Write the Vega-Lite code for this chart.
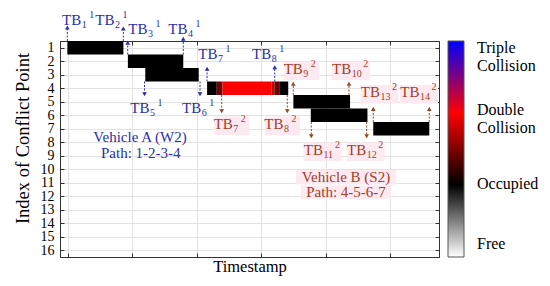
{
  "$schema": "https://vega.github.io/schema/vega-lite/v6.json",
  "autosize": "none",
  "width": 379,
  "height": 216,
  "padding": {"left": 60, "top": 41, "right": 111, "bottom": 29},
  "background": "white",
  "config": {
    "font": "Liberation Serif",
    "view": {"stroke": "#444", "strokeWidth": 1},
    "axis": {"domainColor": "#333", "tickColor": "#333", "gridColor": "#e2e2e2", "labelFont": "Liberation Serif", "titleFont": "Liberation Serif", "labelColor": "#000", "titleColor": "#000", "titleFontWeight": "normal"}
  },
  "datasets": {
    "heat": [
      {"x0": -0.1, "x1": 8.6, "row": 1, "v": 1},
      {"x0": 9.3, "x1": 17.9, "row": 2, "v": 1},
      {"x0": 12.0, "x1": 20.3, "row": 3, "v": 1},
      {"x0": 21.6, "x1": 23.1, "row": 4, "v": 1},
      {"x0": 23.1, "x1": 24.0, "row": 4, "v": 1.45},
      {"x0": 24.0, "x1": 31.6, "row": 4, "v": 2},
      {"x0": 31.6, "x1": 32.1, "row": 4, "v": 1.7},
      {"x0": 32.1, "x1": 32.9, "row": 4, "v": 1.4},
      {"x0": 32.9, "x1": 34.2, "row": 4, "v": 1},
      {"x0": 35.0, "x1": 43.8, "row": 5, "v": 1},
      {"x0": 37.7, "x1": 46.5, "row": 6, "v": 1},
      {"x0": 47.4, "x1": 56.1, "row": 7, "v": 1}
    ],
    "arrows": [
      {"veh": "A", "t": -0.11, "r0": 0.5, "r1": -0.5, "dir": "up"},
      {"veh": "A", "t": 8.59, "r0": 0.5, "r1": -0.42, "dir": "up"},
      {"veh": "A", "t": 9.27, "r0": 1.5, "r1": 0.62, "dir": "up"},
      {"veh": "A", "t": 17.9, "r0": 1.5, "r1": 0.34, "dir": "up"},
      {"veh": "A", "t": 11.88, "r0": 3.5, "r1": 4.45, "dir": "down"},
      {"veh": "A", "t": 20.5, "r0": 3.5, "r1": 4.45, "dir": "down"},
      {"veh": "A", "t": 21.6, "r0": 3.5, "r1": 2.56, "dir": "up"},
      {"veh": "A", "t": 32.1, "r0": 3.5, "r1": 2.44, "dir": "up"},
      {"veh": "B", "t": 23.87, "r0": 4.5, "r1": 5.7, "dir": "down"},
      {"veh": "B", "t": 34.05, "r0": 4.5, "r1": 5.7, "dir": "down"},
      {"veh": "B", "t": 34.98, "r0": 4.5, "r1": 3.67, "dir": "up"},
      {"veh": "B", "t": 43.63, "r0": 4.5, "r1": 3.67, "dir": "up"},
      {"veh": "B", "t": 37.78, "r0": 6.5, "r1": 7.55, "dir": "down"},
      {"veh": "B", "t": 46.38, "r0": 6.5, "r1": 7.55, "dir": "down"},
      {"veh": "B", "t": 47.41, "r0": 6.5, "r1": 5.53, "dir": "up"},
      {"veh": "B", "t": 56.1, "r0": 6.5, "r1": 5.53, "dir": "up"}
    ],
    "tb": [
      {"veh": "A", "n": "1", "s": "1", "t": 2.13, "r": -1.06},
      {"veh": "A", "n": "2", "s": "1", "t": 7.3, "r": -1.06},
      {"veh": "A", "n": "3", "s": "1", "t": 12.42, "r": -0.39},
      {"veh": "A", "n": "4", "s": "1", "t": 18.63, "r": -0.39},
      {"veh": "A", "n": "5", "s": "1", "t": 12.73, "r": 5.46},
      {"veh": "A", "n": "6", "s": "1", "t": 20.76, "r": 5.46},
      {"veh": "A", "n": "7", "s": "1", "t": 23.29, "r": 1.46},
      {"veh": "A", "n": "8", "s": "1", "t": 31.63, "r": 1.46},
      {"veh": "B", "n": "7", "s": "2", "t": 25.67, "r": 6.65},
      {"veh": "B", "n": "8", "s": "2", "t": 33.54, "r": 6.65},
      {"veh": "B", "n": "9", "s": "2", "t": 36.54, "r": 2.57},
      {"veh": "B", "n": "10", "s": "2", "t": 44.05, "r": 2.57},
      {"veh": "B", "n": "11", "s": "2", "t": 39.67, "r": 8.57},
      {"veh": "B", "n": "12", "s": "2", "t": 46.38, "r": 8.57},
      {"veh": "B", "n": "13", "s": "2", "t": 48.52, "r": 4.31},
      {"veh": "B", "n": "14", "s": "2", "t": 54.66, "r": 4.31}
    ],
    "veh": [
      {"veh": "A", "t": 11.18, "r": 7.61, "label": "Vehicle A (W2)"},
      {"veh": "A", "t": 11.3, "r": 8.8, "label": "Path: 1-2-3-4"},
      {"veh": "B", "t": 43.17, "r": 10.61, "label": "Vehicle B (S2)"},
      {"veh": "B", "t": 43.17, "r": 11.72, "label": "Path: 4-5-6-7"}
    ]
  },
  "layer": [
    {
      "data": {"name": "heat"},
      "mark": {"type": "rect", "height": 13.5, "opacity": 1},
      "encoding": {
        "x": {"field": "x0", "type": "quantitative",
              "scale": {"domain": [-1.242, 57.61], "nice": false, "zero": false},
              "axis": {"orient": "bottom", "values": [0, 10, 20, 30, 40, 50], "labels": false, "tickSize": -4, "grid": true, "title": "Timestamp", "titleFontSize": 16.5, "titlePadding": 1}},
        "x2": {"field": "x1"},
        "y": {"field": "row", "type": "quantitative",
              "scale": {"domain": [0.5, 16.5], "reverse": true, "nice": false, "zero": false},
              "axis": {"orient": "left", "values": [1, 2, 3, 4, 5, 6, 7, 8, 9, 10, 11, 12, 13, 14, 15, 16], "tickSize": -4, "labelPadding": 10, "labelFontSize": 14, "labelOverlap": false, "grid": true, "title": "Index of Conflict Point", "titleFontSize": 18.5, "titleY": 97, "titlePadding": 8}},
        "color": {"field": "v", "type": "quantitative",
                  "scale": {"type": "linear", "domain": [0, 1, 2, 3], "range": ["#ffffff", "#000000", "#ff0000", "#0000ff"], "interpolate": "rgb", "nice": false, "zero": false},
                  "legend": {"orient": "none", "legendX": 388, "legendY": 0, "title": null, "gradientLength": 216, "gradientThickness": 16, "gradientStrokeColor": "#555", "gradientStrokeWidth": 1,
                             "values": [0.18, 1.02, 2.037, 2.9],
                             "labelExpr": "datum.value < 0.5 ? '\u2002\u2002Free' : datum.value < 1.5 ? 'Occupied' : datum.value < 2.5 ? ['\u2005\u2009Double', 'Collision'] : ['\u2002\u2009Triple', 'Collision']",
                             "labelBaseline": "middle", "labelOffset": 13, "labelFont": "Liberation Serif", "labelFontSize": 16, "labelColor": "#000", "labelOverlap": false, "labelLimit": 200,
                             "encode": {"labels": {"update": {"lineHeight": {"value": 15}}}}}}
      }
    },
    {
      "data": {"name": "heat"},
      "mark": {"type": "point", "opacity": 0},
      "encoding": {
        "x": {"field": "x0", "type": "quantitative", "axis": {"orient": "top", "values": [0, 10, 20, 30, 40, 50], "labels": false, "tickSize": -4, "grid": false, "title": null}},
        "y": {"field": "row", "type": "quantitative", "axis": {"orient": "right", "values": [1, 2, 3, 4, 5, 6, 7, 8, 9, 10, 11, 12, 13, 14, 15, 16], "labels": false, "tickSize": -4, "grid": false, "title": null}}
      }
    },
    {
      "data": {"name": "tb"},
      "transform": [{"filter": "datum.veh == 'B' && length(datum.n) == 1"}],
      "mark": {"type": "point", "filled": true, "fill": "#fde9f0", "opacity": 1, "strokeWidth": 0, "size": 400, "shape": "M-1.9,-0.75H1.6V1.1H-1.9Z"},
      "encoding": {
        "x": {"field": "t", "type": "quantitative", "axis": null},
        "y": {"field": "r", "type": "quantitative", "axis": null}
      }
    },
    {
      "data": {"name": "tb"},
      "transform": [{"filter": "datum.veh == 'B' && length(datum.n) == 2"}],
      "mark": {"type": "point", "filled": true, "fill": "#fde9f0", "opacity": 1, "strokeWidth": 0, "size": 400, "shape": "M-2.0,-0.75H1.8V1.1H-2.0Z"},
      "encoding": {
        "x": {"field": "t", "type": "quantitative", "axis": null},
        "y": {"field": "r", "type": "quantitative", "axis": null}
      }
    },
    {
      "data": {"name": "veh"},
      "transform": [{"filter": "datum.veh == 'B'"}],
      "mark": {"type": "point", "filled": true, "fill": "#fde9f0", "opacity": 1, "strokeWidth": 0, "size": 10000},
      "encoding": {
        "x": {"field": "t", "type": "quantitative", "axis": null},
        "y": {"field": "r", "type": "quantitative", "axis": null},
        "shape": {"field": "label", "type": "nominal", "scale": {"domain": ["Vehicle B (S2)", "Path: 4-5-6-7"], "range": ["M-1,-0.15H1V0.14H-1Z", "M-0.9,-0.14H0.9V0.13H-0.9Z"]}, "legend": null}
      }
    },
    {
      "data": {"name": "arrows"},
      "mark": {"type": "rule", "strokeWidth": 1, "strokeDash": [2, 1.5]},
      "encoding": {
        "x": {"field": "t", "type": "quantitative", "axis": null},
        "y": {"field": "r0", "type": "quantitative", "axis": null},
        "y2": {"field": "r1"},
        "color": {"field": "veh", "type": "nominal", "scale": {"domain": ["A", "B"], "range": ["#2a2fb0", "#8a4b24"]}, "legend": null}
      }
    },
    {
      "data": {"name": "arrows"},
      "mark": {"type": "point", "filled": true, "size": 22, "opacity": 1},
      "encoding": {
        "x": {"field": "t", "type": "quantitative", "axis": null},
        "y": {"field": "r1", "type": "quantitative", "axis": null},
        "shape": {"field": "dir", "type": "nominal", "scale": {"domain": ["up", "down"], "range": ["triangle-up", "triangle-down"]}, "legend": null},
        "color": {"field": "veh", "type": "nominal", "scale": {"domain": ["A", "B"], "range": ["#2a2fb0", "#8a4b24"]}, "legend": null}
      }
    },
    {
      "data": {"name": "tb"},
      "mark": {"type": "text", "text": "TB", "align": "right", "baseline": "middle", "fontSize": 15, "dx": -0.5},
      "encoding": {
        "x": {"field": "t", "type": "quantitative", "axis": null},
        "y": {"field": "r", "type": "quantitative", "axis": null},
        "color": {"field": "veh", "type": "nominal", "scale": {"domain": ["A", "B"], "range": ["#2b2fa8", "#a0402a"]}, "legend": null}
      }
    },
    {
      "data": {"name": "tb"},
      "mark": {"type": "text", "align": "left", "baseline": "middle", "fontSize": 10, "dy": 5},
      "encoding": {
        "x": {"field": "t", "type": "quantitative", "axis": null},
        "y": {"field": "r", "type": "quantitative", "axis": null},
        "text": {"field": "n"},
        "color": {"field": "veh", "type": "nominal", "scale": {"domain": ["A", "B"], "range": ["#2b2fa8", "#a0402a"]}, "legend": null}
      }
    },
    {
      "data": {"name": "tb"},
      "transform": [{"filter": "length(datum.n) == 1"}],
      "mark": {"type": "text", "align": "left", "baseline": "middle", "fontSize": 10, "dy": -5, "dx": 7.5},
      "encoding": {
        "x": {"field": "t", "type": "quantitative", "axis": null},
        "y": {"field": "r", "type": "quantitative", "axis": null},
        "text": {"field": "s"},
        "color": {"field": "veh", "type": "nominal", "scale": {"domain": ["A", "B"], "range": ["#2b2fa8", "#a0402a"]}, "legend": null}
      }
    },
    {
      "data": {"name": "tb"},
      "transform": [{"filter": "length(datum.n) == 2"}],
      "mark": {"type": "text", "align": "left", "baseline": "middle", "fontSize": 10, "dy": -5, "dx": 11.5},
      "encoding": {
        "x": {"field": "t", "type": "quantitative", "axis": null},
        "y": {"field": "r", "type": "quantitative", "axis": null},
        "text": {"field": "s"},
        "color": {"field": "veh", "type": "nominal", "scale": {"domain": ["A", "B"], "range": ["#2b2fa8", "#a0402a"]}, "legend": null}
      }
    },
    {
      "data": {"name": "veh"},
      "mark": {"type": "text", "align": "center", "baseline": "middle", "fontSize": 15},
      "encoding": {
        "x": {"field": "t", "type": "quantitative", "axis": null},
        "y": {"field": "r", "type": "quantitative", "axis": null},
        "text": {"field": "label"},
        "color": {"field": "veh", "type": "nominal", "scale": {"domain": ["A", "B"], "range": ["#2b2fa8", "#a0402a"]}, "legend": null}
      }
    }
  ],
  "resolve": {"scale": {"color": "independent", "shape": "independent"}, "axis": {"x": "independent", "y": "independent"}}
}
